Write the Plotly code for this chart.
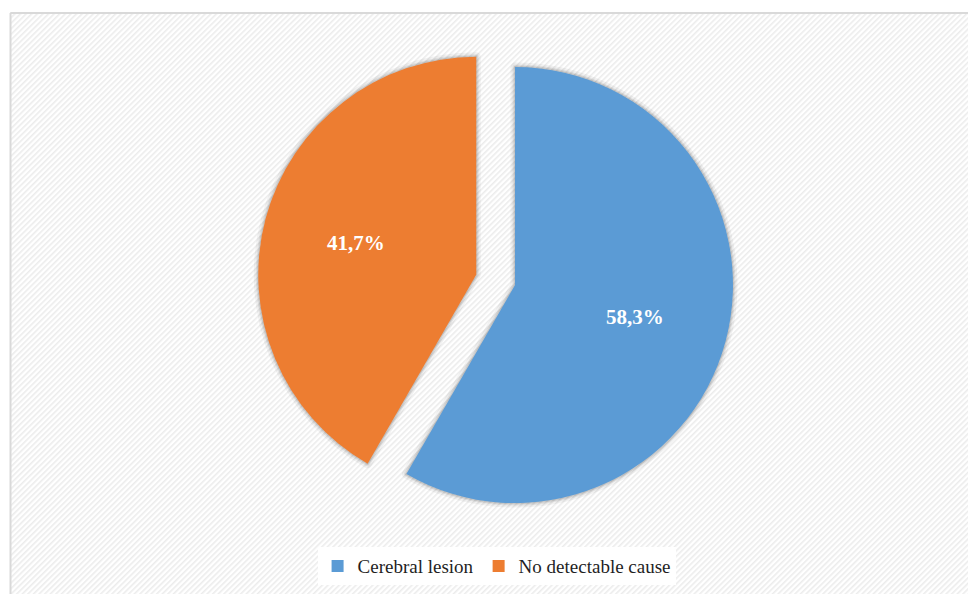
import base64
import math
import plotly.graph_objects as go

# Share of cases by cause
labels = ["Cerebral lesion", "No detectable cause"]
values = [58.3, 41.7]
colors = ["#5B9BD5", "#ED7D31"]

W, H = 968, 594
PULL = 0.092
DOMAIN_X = [0.202, 0.822]
DOMAIN_Y = [0.128, 0.9295]
LABEL_RADIUS = 0.57  # label distance from slice apex, as a fraction of the radius

# light diagonal hatch used as the chart-area background
hatch_svg = f"""<svg xmlns='http://www.w3.org/2000/svg' width='{W}' height='{H}'>
<defs><pattern id='p' width='4' height='4' patternUnits='userSpaceOnUse' patternTransform='rotate(45)'>
<rect width='4' height='4' fill='#ffffff'/>
<rect width='1.6' height='4' fill='#ececec'/>
</pattern></defs>
<rect width='{W}' height='{H}' fill='url(#p)'/>
</svg>"""
hatch_uri = "data:image/svg+xml;base64," + base64.b64encode(hatch_svg.encode()).decode()

fig = go.Figure()

# soft shadow rings drawn beneath the slices
for width, alpha in [(9, 0.05), (5, 0.07), (2.5, 0.10)]:
    fig.add_trace(go.Pie(
        labels=labels, values=values, sort=False, direction="clockwise", rotation=0,
        pull=PULL, domain=dict(x=DOMAIN_X, y=DOMAIN_Y),
        marker=dict(colors=["rgba(0,0,0,0)"] * 2,
                    line=dict(color=f"rgba(0,0,0,{alpha})", width=width)),
        textinfo="none", hoverinfo="skip", showlegend=False,
    ))

fig.add_trace(go.Pie(
    labels=labels, values=values, sort=False, direction="clockwise", rotation=0,
    pull=PULL, domain=dict(x=DOMAIN_X, y=DOMAIN_Y),
    marker=dict(colors=colors, line=dict(width=0)),
    textinfo="none", showlegend=True,
))

# percentage labels placed along each slice's bisector
total = sum(values)
cx = (DOMAIN_X[0] + DOMAIN_X[1]) / 2 * W
cy = (DOMAIN_Y[0] + DOMAIN_Y[1]) / 2 * H
r = min((DOMAIN_X[1] - DOMAIN_X[0]) * W, (DOMAIN_Y[1] - DOMAIN_Y[0]) * H) / 2 / (1 + PULL)
start = 0.0
annotations = []
for v in values:
    mid = math.radians((start + v / total / 2) * 360)
    start += v / total
    dx, dy = math.sin(mid), math.cos(mid)
    px = cx + dx * r * (PULL + LABEL_RADIUS)
    py = cy + dy * r * (PULL + LABEL_RADIUS)
    pct = f"{v / total * 100:.1f}".replace(".", ",") + "%"
    annotations.append(dict(
        x=px / W, y=py / H, xref="paper", yref="paper", showarrow=False,
        text=f"<b>{pct}</b>", xanchor="center", yanchor="middle",
        font=dict(family="Liberation Serif", size=21, color="white"),
    ))

fig.update_layout(
    width=W, height=H,
    margin=dict(l=0, r=0, t=0, b=0, autoexpand=False),
    paper_bgcolor="white",
    annotations=annotations,
    images=[dict(source=hatch_uri, xref="paper", yref="paper",
                 x=10 / W, y=1 - 12 / H, sizex=1 - 10 / W, sizey=1 - 12 / H,
                 xanchor="left", yanchor="top", sizing="stretch", layer="below")],
    shapes=[
        dict(type="line", xref="paper", yref="paper", x0=10.5 / W, x1=1, y0=1 - 13 / H, y1=1 - 13 / H,
             line=dict(color="#d9d9d9", width=2)),
        dict(type="line", xref="paper", yref="paper", x0=10.5 / W, x1=10.5 / W, y0=0, y1=1 - 13 / H,
             line=dict(color="#d9d9d9", width=2)),
    ],
    legend=dict(orientation="h", x=0.513, y=0.047, xanchor="center", yanchor="middle",
                bgcolor="white", font=dict(family="Liberation Serif", size=19, color="#1f1f1f"),
                traceorder="normal"),
)

fig.write_html("out.html")
